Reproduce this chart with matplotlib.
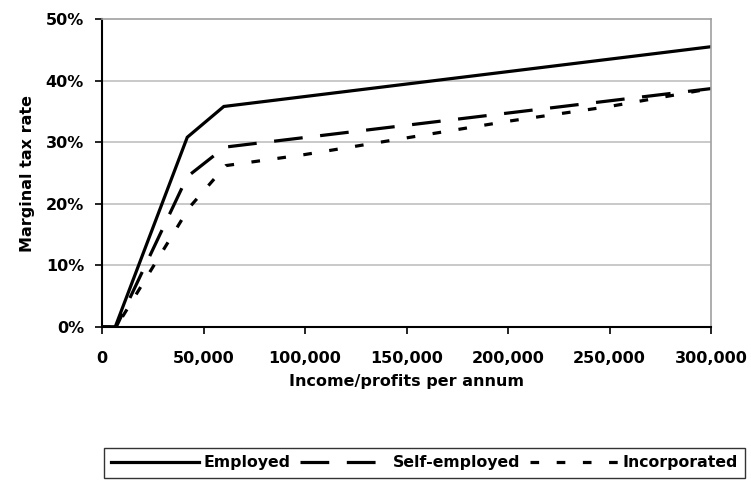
import matplotlib.pyplot as plt
from matplotlib.ticker import FuncFormatter

# income / profits per annum (x) and marginal tax rate in % (y)
employed_x = [0, 6500, 42000, 60000, 300000]
employed_y = [0, 0, 30.8, 35.8, 45.5]

self_emp_x = [0, 7000, 42000, 60500, 300000]
self_emp_y = [0, 0, 24.4, 29.2, 38.7]

incorp_x = [0, 7000, 43000, 61000, 100000, 150000, 200000, 250000, 300000]
incorp_y = [0, 0, 19.4, 26.2, 28.0, 30.7, 33.4, 35.8, 38.7]

x_ticks = [0, 50000, 100000, 150000, 200000, 250000, 300000]
y_ticks = [0, 10, 20, 30, 40, 50]

plt.rcParams['font.family'] = 'DejaVu Sans'
plt.rcParams['font.weight'] = 'bold'
fs = 11.5

fig = plt.figure(figsize=(7.51, 4.87), dpi=100)
ax = fig.add_axes([102 / 751, 1 - 327 / 487, 609 / 751, 308 / 487])

lw = 2.3
ax.plot(employed_x, employed_y, color='black', lw=lw, label='Employed',
        solid_joinstyle='miter')
ax.plot(self_emp_x, self_emp_y, color='black', lw=lw, dashes=(9, 5.5),
        label='Self-employed')
ax.plot(incorp_x, incorp_y, color='black', lw=lw, dashes=(2.7, 5.5),
        label='Incorporated')

ax.set_xlim(0, 300000)
ax.set_ylim(0, 50)
ax.set_xticks(x_ticks)
ax.set_yticks(y_ticks)
ax.xaxis.set_major_formatter(FuncFormatter(lambda v, p: f'{int(v):,}'))
ax.yaxis.set_major_formatter(FuncFormatter(lambda v, p: f'{int(v)}%'))

for y in y_ticks[1:-1]:
    ax.axhline(y, color='#c0c0c0', lw=1.2, zorder=0)

ax.spines['top'].set_color('#a0a0a0')
ax.spines['right'].set_color('#a0a0a0')
ax.spines['top'].set_linewidth(1.2)
ax.spines['right'].set_linewidth(1.2)
ax.spines['left'].set_linewidth(1.5)
ax.spines['bottom'].set_linewidth(1.5)

ax.tick_params(direction='out', length=5, width=1.2, labelsize=fs)
ax.tick_params(axis='x', pad=12)
ax.tick_params(axis='y', pad=8)
for lab in ax.get_xticklabels() + ax.get_yticklabels():
    lab.set_fontweight('bold')

ax.set_xlabel('Income/profits per annum', fontsize=fs, fontweight='bold', labelpad=6)
ax.set_ylabel('Marginal tax rate', fontsize=fs, fontweight='bold', labelpad=8)

leg = fig.legend(loc='center', bbox_to_anchor=(424.5 / 751, 1 - 463 / 487),
                 ncol=3, fontsize=11.3, frameon=True, fancybox=False,
                 handlelength=5.6, handletextpad=0.3, columnspacing=0.6,
                 borderpad=0.45)
leg.get_frame().set_edgecolor('black')
leg.get_frame().set_linewidth(1.0)
for t in leg.get_texts():
    t.set_fontweight('bold')

fig.savefig('out.png', dpi=100)
